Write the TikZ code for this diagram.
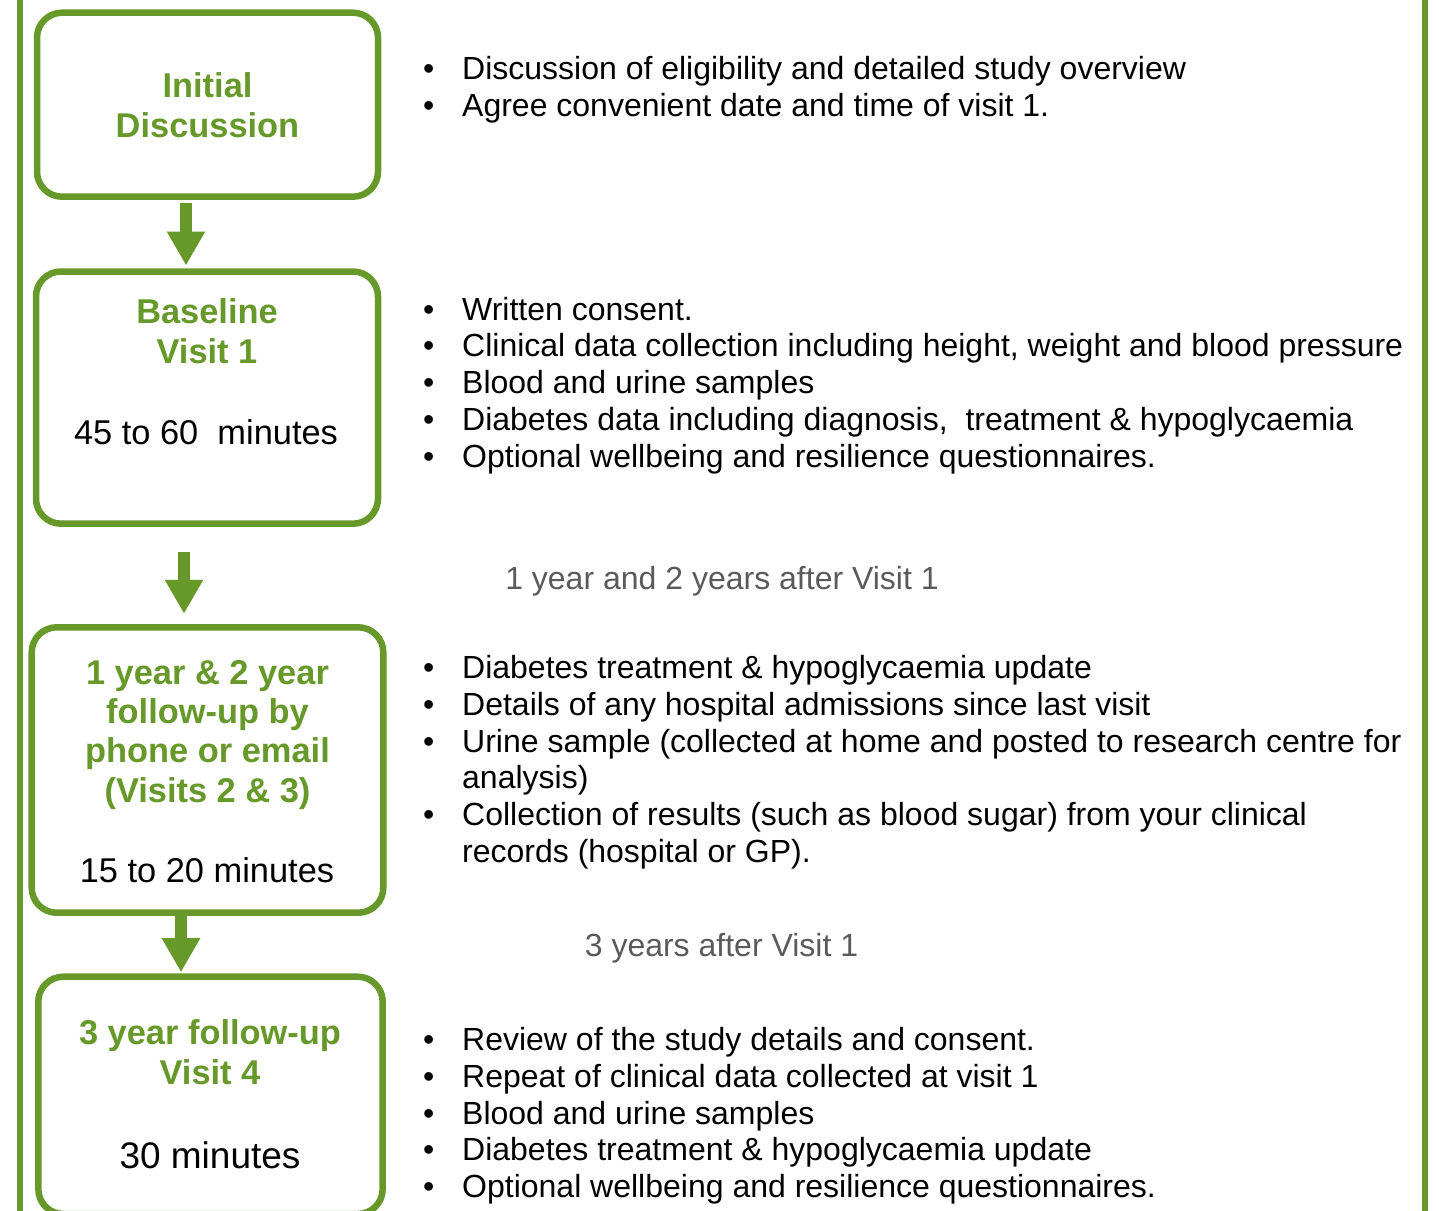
\documentclass[tikz,border=0pt]{standalone}
\usepackage{fontspec}
\setmainfont{Liberation Sans}
\usetikzlibrary{arrows.meta}
\definecolor{grn}{RGB}{102,153,42}
\definecolor{gtxt}{RGB}{90,90,90}
\tikzset{
  box/.style={draw=grn, line width=6.5pt, rounded corners=25pt, inner sep=0pt, outer sep=0pt},
  ttl/.style={font=\fontsize{34.4}{40}\selectfont\bfseries, text=grn, inner sep=0pt, anchor=base},
  dur/.style={font=\fontsize{34.4}{40}\selectfont, text=black, inner sep=0pt, anchor=base},
  body/.style={font=\fontsize{32}{36.8}\selectfont, text=black, inner sep=0pt, anchor=base west},
  bul/.style={font=\fontsize{32}{36.8}\selectfont, text=black, inner sep=0pt, anchor=base west},
  gap/.style={font=\fontsize{32}{36.8}\selectfont, text=gtxt, inner sep=0pt, anchor=base},
  blockarrow/.style={draw=grn, line width=12pt, -{Triangle[width=36pt,length=34pt]}},
  frameline/.style={draw=grn, line width=6pt}
}
\begin{document}
\begin{tikzpicture}[x=1pt,y=-1pt]
\useasboundingbox (0,0) rectangle (1439,1210);
% frame
\coordinate (fl1) at (19.5,-10);
\coordinate (fl2) at (19.5,1225);
\coordinate (fr1) at (1425,-10);
\coordinate (fr2) at (1425,1225);
\draw[frameline] (fl1) -- (fl2);
\draw[frameline] (fr1) -- (fr2);
% boxes
\node[box, minimum width=341pt, minimum height=184pt] (b1) at (207.5,104.7) {};
\node[box, minimum width=342pt, minimum height=252.2pt] (b2) at (207,397.6) {};
\node[box, minimum width=351.6pt, minimum height=285.4pt] (b3) at (207.5,770) {};
\node[box, minimum width=344.4pt, minimum height=237.3pt] (b4) at (210.5,1095.35) {};
% arrows
\draw[blockarrow] ([xshift=-21.5pt,yshift=-6.3pt]b1.south) -- ([xshift=-21pt,yshift=6pt]b2.north);
\draw[blockarrow] ([xshift=-23pt,yshift=-28.6pt]b2.south) -- ([xshift=-23.5pt,yshift=13.5pt]b3.north);
\draw[blockarrow] ([xshift=-26.5pt]b3.south) -- ([xshift=-29.5pt,yshift=4.5pt]b4.north);
% box texts
\node[ttl] (t1a) at (207.5,97) {Initial};
\node[ttl] (t1b) at (207.5,137) {Discussion};
\node[ttl] (t2a) at (207,323) {Baseline};
\node[ttl] (t2b) at (207,363) {Visit 1};
\node[dur] (t2c) at (206,444) {45 to 60\ \ minutes};
\node[ttl] (t3a) at (207.5,684) {1 year \& 2 year};
\node[ttl] (t3b) at (207.5,723.5) {follow-up by};
\node[ttl] (t3c) at (207.5,762.5) {phone or email};
\node[ttl] (t3d) at (207.5,802) {(Visits 2 \& 3)};
\node[dur] (t3e) at (207,882) {15 to 20 minutes};
\node[ttl] (t4a) at (210,1044) {3 year follow-up};
\node[ttl] (t4b) at (210,1084) {Visit 4};
\node[dur, font=\fontsize{37}{42}\selectfont] (t4c) at (210,1168) {30 minutes};
% gap labels
\node[gap] (g1) at (722,589.5) {1 year and 2 years after Visit 1};
\node[gap] (g2) at (721.5,956.5) {3 years after Visit 1};
% block 1
\foreach \t [count=\i] in {{Discussion of eligibility and detailed study overview},{Agree convenient date and time of visit 1.}}{
  \node[body] (la\i) at (462,{79.5+(\i-1)*36.8}) {\t};
  \node[bul] (pa\i) at (423,{79.5+(\i-1)*36.8}) {•};
}
% block 2
\foreach \t [count=\i] in {{Written consent.},{Clinical data collection including height, weight and blood pressure},{Blood and urine samples},{Diabetes data including diagnosis,\ \ treatment \& hypoglycaemia},{Optional wellbeing and resilience questionnaires.}}{
  \node[body] (lb\i) at (462,{320+(\i-1)*36.8}) {\t};
  \node[bul] (pb\i) at (423,{320+(\i-1)*36.8}) {•};
}
% block 3
\foreach \t [count=\i] in {{Diabetes treatment \& hypoglycaemia update},{Details of any hospital admissions since last visit},{Urine sample (collected at home and posted to research centre for},{analysis)},{Collection of results (such as blood sugar) from your clinical},{records (hospital or GP).}}{
  \node[body] (lc\i) at (462,{678.5+(\i-1)*36.8}) {\t};
}
\foreach \i in {1,2,3,5}{
  \node[bul] (pc\i) at (423,{678.5+(\i-1)*36.8}) {•};
}
% block 4
\foreach \t [count=\i] in {{Review of the study details and consent.},{Repeat of clinical data collected at visit 1},{Blood and urine samples},{Diabetes treatment \& hypoglycaemia update},{Optional wellbeing and resilience questionnaires.}}{
  \node[body] (ld\i) at (462,{1050.5+(\i-1)*36.8}) {\t};
  \node[bul] (pd\i) at (423,{1050.5+(\i-1)*36.8}) {•};
}
\end{tikzpicture}
\end{document}
